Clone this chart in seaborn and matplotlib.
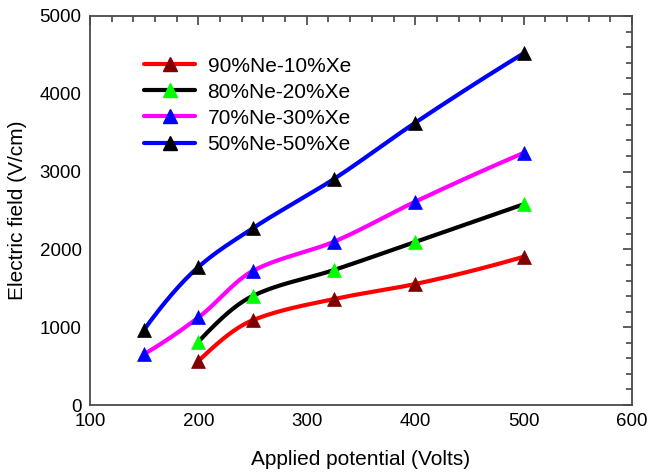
import numpy as np
import pandas as pd
import seaborn as sns
import matplotlib
matplotlib.use("Agg")
import matplotlib.pyplot as plt
from matplotlib.lines import Line2D
from matplotlib.ticker import MultipleLocator

# Applied potential (V) and electric field (V/cm) for each gas mixture
v_90_10 = [200, 250, 325, 400, 500]
e_90_10 = [566, 1089, 1362, 1555, 1905]

v_80_20 = [200, 250, 325, 400, 500]
e_80_20 = [814, 1401, 1735, 2095, 2580]

v_70_30 = [150, 200, 250, 325, 400, 500]
e_70_30 = [655, 1125, 1722, 2099, 2613, 3240]

v_50_50 = [150, 200, 250, 325, 400, 500]
e_50_50 = [970, 1774, 2270, 2905, 3628, 4520]

labels = ["90%Ne-10%Xe", "80%Ne-20%Xe", "70%Ne-30%Xe", "50%Ne-50%Xe"]
line_colors = ["#ff0000", "#000000", "#ff00ff", "#0000ff"]
marker_colors = ["#800000", "#00ff00", "#0000ff", "#000000"]


def smooth_curve(x, y, n=300):
    """Shape-preserving piecewise cubic (PCHIP) through the measured points."""
    x = np.asarray(x, float)
    y = np.asarray(y, float)
    h = np.diff(x)
    delta = np.diff(y) / h
    k = len(x)
    d = np.zeros(k)
    for i in range(1, k - 1):
        if delta[i - 1] * delta[i] > 0:
            w1 = 2 * h[i] + h[i - 1]
            w2 = h[i] + 2 * h[i - 1]
            d[i] = (w1 + w2) / (w1 / delta[i - 1] + w2 / delta[i])
    d[0] = ((2 * h[0] + h[1]) * delta[0] - h[0] * delta[1]) / (h[0] + h[1])
    if np.sign(d[0]) != np.sign(delta[0]):
        d[0] = 0
    d[-1] = ((2 * h[-1] + h[-2]) * delta[-1] - h[-1] * delta[-2]) / (h[-1] + h[-2])
    if np.sign(d[-1]) != np.sign(delta[-1]):
        d[-1] = 0
    xs = np.linspace(x[0], x[-1], n)
    idx = np.clip(np.searchsorted(x, xs) - 1, 0, k - 2)
    hh = h[idx]
    t = (xs - x[idx]) / hh
    h00 = 2 * t ** 3 - 3 * t ** 2 + 1
    h10 = t ** 3 - 2 * t ** 2 + t
    h01 = -2 * t ** 3 + 3 * t ** 2
    h11 = t ** 3 - t ** 2
    ys = h00 * y[idx] + h10 * hh * d[idx] + h01 * y[idx + 1] + h11 * hh * d[idx + 1]
    return xs, ys


sns.set_style("white")
plt.rcParams["font.family"] = ["Liberation Sans", "DejaVu Sans"]
plt.rcParams["text.color"] = "black"
plt.rcParams["axes.labelcolor"] = "black"

fig = plt.figure(figsize=(6.47, 4.76), dpi=100)
ax = fig.add_axes([90 / 647, 71 / 476, 542 / 647, 389 / 476])

series = [(v_90_10, e_90_10), (v_80_20, e_80_20), (v_70_30, e_70_30), (v_50_50, e_50_50)]
for (vx, ey), lc, mc in zip(series, line_colors, marker_colors):
    xs, ys = smooth_curve(vx, ey)
    curve = pd.DataFrame({"V": xs, "E": ys})
    sns.lineplot(data=curve, x="V", y="E", ax=ax, color=lc, linewidth=3.0,
                 estimator=None, sort=False, zorder=2)
    pts = pd.DataFrame({"V": vx, "E": ey})
    sns.scatterplot(data=pts, x="V", y="E", ax=ax, marker="^", s=100,
                    color=mc, edgecolor=mc, linewidth=0.5, zorder=3)

ax.set_xlim(100, 600)
ax.set_ylim(0, 5000)
ax.xaxis.set_major_locator(MultipleLocator(100))
ax.xaxis.set_minor_locator(MultipleLocator(20))
ax.yaxis.set_major_locator(MultipleLocator(1000))
ax.yaxis.set_minor_locator(MultipleLocator(200))

for sp in ax.spines.values():
    sp.set_visible(True)
    sp.set_color("#4a4a4a")
    sp.set_linewidth(1.3)

ax.tick_params(which="both", direction="in", top=True, right=True,
               color="#333333", width=1.1, labelsize=13.5, labelcolor="black")
ax.tick_params(which="major", length=6.5, pad=6)
ax.tick_params(which="minor", length=4.3)

ax.set_xlabel("Applied potential (Volts)", fontsize=15, labelpad=14, color="black")
ax.set_ylabel("Electric field (V/cm)", fontsize=15, labelpad=9, color="black")

handles = [Line2D([0], [0], color=lc, lw=3.0, marker="^", markersize=10,
                  markerfacecolor=mc, markeredgecolor=mc)
           for lc, mc in zip(line_colors, marker_colors)]
leg = ax.legend(handles, labels, loc="upper left", bbox_to_anchor=(0.085, 0.917),
                frameon=False, fontsize=15, handlelength=2.45, handletextpad=0.58,
                labelspacing=0.34, borderaxespad=0)
for t in leg.get_texts():
    t.set_color("black")

fig.savefig("out.png", dpi=100)
